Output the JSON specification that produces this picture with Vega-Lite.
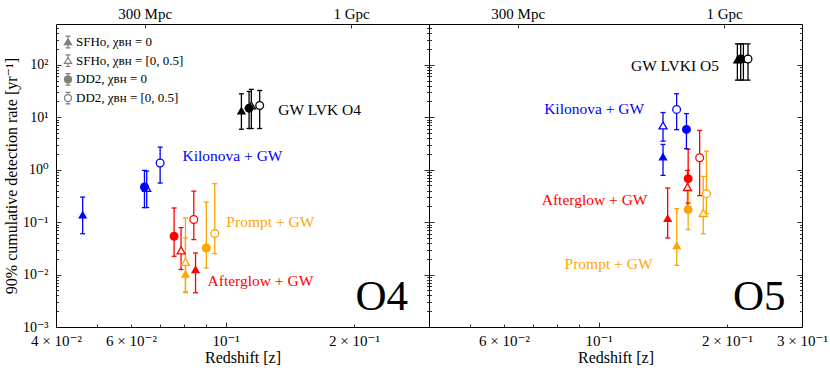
{
  "$schema": "https://vega.github.io/schema/vega-lite/v6.json",
  "background": "white",
  "padding": {"left": 2, "top": 5, "right": 0, "bottom": 0},
  "spacing": 0,
  "bounds": "flush",
  "config": {
    "font": "'Liberation Serif', 'Times New Roman', 'DejaVu Serif', serif",
    "view": {"stroke": "#000000", "strokeWidth": 1},
    "axis": {"grid": false, "domain": false, "labelFont": "'Liberation Serif', 'Times New Roman', 'DejaVu Serif', serif", "titleFont": "'Liberation Serif', 'Times New Roman', 'DejaVu Serif', serif", "labelColor": "#000000", "titleColor": "#000000", "tickColor": "#000000", "tickWidth": 0.8, "labelFontSize": 15, "titleFontSize": 16, "titleFontWeight": "normal", "labelFlush": false, "labelOverlap": false},
    "legend": {"labelFont": "'Liberation Serif', 'Times New Roman', 'DejaVu Serif', serif"},
    "text": {"font": "'Liberation Serif', 'Times New Roman', 'DejaVu Serif', serif"}
  },
  "datasets": {
    "empty": [],
    "pts": [
      {"panel": "O4", "group": "GW", "model": "SFHo0", "z": 0.1089, "r": 13.5, "lo": 5.9, "hi": 28},
      {"panel": "O4", "group": "GW", "model": "DD20", "z": 0.1135, "r": 14.9, "lo": 6.1, "hi": 31},
      {"panel": "O4", "group": "GW", "model": "SFHo05", "z": 0.1149, "r": 16.8, "lo": 6.1, "hi": 34},
      {"panel": "O4", "group": "GW", "model": "DD205", "z": 0.1202, "r": 16.8, "lo": 6.1, "hi": 32.4},
      {"panel": "O4", "group": "Kilonova", "model": "SFHo0", "z": 0.0462, "r": 0.139, "lo": 0.06, "hi": 0.3},
      {"panel": "O4", "group": "Kilonova", "model": "DD20", "z": 0.0645, "r": 0.467, "lo": 0.189, "hi": 0.97},
      {"panel": "O4", "group": "Kilonova", "model": "SFHo05", "z": 0.0653, "r": 0.45, "lo": 0.19, "hi": 0.94},
      {"panel": "O4", "group": "Kilonova", "model": "DD205", "z": 0.0702, "r": 1.34, "lo": 0.556, "hi": 2.69},
      {"panel": "O4", "group": "Afterglow", "model": "DD20", "z": 0.0757, "r": 0.0537, "lo": 0.0223, "hi": 0.186},
      {"panel": "O4", "group": "Afterglow", "model": "SFHo05", "z": 0.0786, "r": 0.029, "lo": 0.0125, "hi": 0.0785},
      {"panel": "O4", "group": "Afterglow", "model": "SFHo0", "z": 0.085, "r": 0.0126, "lo": 0.0045, "hi": 0.0258},
      {"panel": "O4", "group": "Afterglow", "model": "DD205", "z": 0.0842, "r": 0.112, "lo": 0.0464, "hi": 0.39},
      {"panel": "O4", "group": "Prompt", "model": "SFHo05", "z": 0.0805, "r": 0.0174, "lo": 0.0047, "hi": 0.12},
      {"panel": "O4", "group": "Prompt", "model": "SFHo0", "z": 0.0805, "r": 0.0104, "lo": 0.0045, "hi": 0.05},
      {"panel": "O4", "group": "Prompt", "model": "DD20", "z": 0.0901, "r": 0.0321, "lo": 0.0134, "hi": 0.241},
      {"panel": "O4", "group": "Prompt", "model": "DD205", "z": 0.0943, "r": 0.0604, "lo": 0.0251, "hi": 0.541},
      {"panel": "O5", "group": "GW", "model": "SFHo0", "z": 0.2116, "r": 126, "lo": 51, "hi": 251},
      {"panel": "O5", "group": "GW", "model": "DD20", "z": 0.2154, "r": 129, "lo": 51, "hi": 251},
      {"panel": "O5", "group": "GW", "model": "SFHo05", "z": 0.2186, "r": 129, "lo": 51, "hi": 251},
      {"panel": "O5", "group": "GW", "model": "DD205", "z": 0.2241, "r": 129, "lo": 51, "hi": 251},
      {"panel": "O5", "group": "Kilonova", "model": "SFHo05", "z": 0.1416, "r": 6.98, "lo": 3.5, "hi": 12.3},
      {"panel": "O5", "group": "Kilonova", "model": "SFHo0", "z": 0.1416, "r": 1.79, "lo": 0.78, "hi": 3.03},
      {"panel": "O5", "group": "Kilonova", "model": "DD205", "z": 0.1524, "r": 14.1, "lo": 5.8, "hi": 28},
      {"panel": "O5", "group": "Kilonova", "model": "DD20", "z": 0.1607, "r": 5.86, "lo": 2.51, "hi": 11.7},
      {"panel": "O5", "group": "Afterglow", "model": "SFHo0", "z": 0.1452, "r": 0.12, "lo": 0.0498, "hi": 0.447},
      {"panel": "O5", "group": "Afterglow", "model": "SFHo05", "z": 0.1616, "r": 0.467, "lo": 0.19, "hi": 0.97},
      {"panel": "O5", "group": "Afterglow", "model": "DD20", "z": 0.1622, "r": 0.674, "lo": 0.231, "hi": 2.44},
      {"panel": "O5", "group": "Afterglow", "model": "DD205", "z": 0.1726, "r": 1.69, "lo": 0.32, "hi": 5.6},
      {"panel": "O5", "group": "Prompt", "model": "SFHo0", "z": 0.1525, "r": 0.0361, "lo": 0.015, "hi": 0.181},
      {"panel": "O5", "group": "Prompt", "model": "DD20", "z": 0.1622, "r": 0.173, "lo": 0.072, "hi": 0.6},
      {"panel": "O5", "group": "Prompt", "model": "SFHo05", "z": 0.176, "r": 0.149, "lo": 0.06, "hi": 0.745},
      {"panel": "O5", "group": "Prompt", "model": "DD205", "z": 0.179, "r": 0.349, "lo": 0.145, "hi": 2.26}
    ],
    "notes": [
      {"panel": "O4", "group": "GW", "text": "GW LVK O4", "z": 0.1329, "r": 13.5},
      {"panel": "O4", "group": "Kilonova", "text": "Kilonova + GW", "z": 0.0792, "r": 1.79},
      {"panel": "O4", "group": "Prompt", "text": "Prompt + GW", "z": 0.1004, "r": 0.099},
      {"panel": "O4", "group": "Afterglow", "text": "Afterglow + GW", "z": 0.0907, "r": 0.00745},
      {"panel": "O5", "group": "GW", "text": "GW LVKI O5", "z": 0.1915, "r": 94},
      {"panel": "O5", "group": "Kilonova", "text": "Kilonova + GW", "z": 0.1279, "r": 14.1},
      {"panel": "O5", "group": "Afterglow", "text": "Afterglow + GW", "z": 0.1302, "r": 0.268},
      {"panel": "O5", "group": "Prompt", "text": "Prompt + GW", "z": 0.1338, "r": 0.0157}
    ],
    "runs": [
      {"panel": "O4", "text": "O4", "z": 0.268, "r": 0.00209},
      {"panel": "O5", "text": "O5", "z": 0.2746, "r": 0.00209}
    ]
  },
  "hconcat": [
    {
      "width": 373,
      "height": 303,
      "resolve": {"axis": {"x": "independent", "y": "independent"}},
      "layer": [
        {
          "data": {"name": "empty"},
          "mark": {"type": "point", "opacity": 0},
          "encoding": {
            "x": {"field": "z", "type": "quantitative", "scale": {"type": "log", "domain": [0.04, 0.3], "nice": false}, "axis": {"orient": "bottom", "values": [0.04, 0.06, 0.1, 0.2], "ticks": false, "labelPadding": 6, "labelExpr": "datum.value < 0.05 ? '4 × 10⁻²' : datum.value < 0.07 ? '6 × 10⁻²' : datum.value < 0.15 ? '10⁻¹' : datum.value < 0.25 ? '2 × 10⁻¹' : '3 × 10⁻¹'", "title": "Redshift [z]", "titlePadding": 1}},
            "y": {"field": "r", "type": "quantitative", "scale": {"type": "log", "domain": [0.001, 600], "nice": false}, "axis": {"orient": "left", "values": [0.001, 0.01, 0.1, 1, 10, 100], "ticks": false, "labelPadding": 8, "labelFontSize": 14, "labelExpr": "datum.value < 0.005 ? '10⁻³' : datum.value < 0.05 ? '10⁻²' : datum.value < 0.5 ? '10⁻¹' : datum.value < 5 ? '10⁰' : datum.value < 50 ? '10¹' : '10²'", "title": "90% cumulative detection rate [yr⁻¹]", "titlePadding": 3}}
          }
        },
        {
          "data": {"name": "empty"},
          "mark": {"type": "point", "opacity": 0},
          "encoding": {
            "x": {"field": "z", "type": "quantitative", "scale": {"type": "log", "domain": [0.04, 0.3], "nice": false}, "axis": {"orient": "bottom", "values": [0.1], "offset": -5, "tickSize": 5, "labels": false, "title": null}},
            "y": {"field": "r", "type": "quantitative", "scale": {"type": "log", "domain": [0.001, 600], "nice": false}, "axis": {"orient": "left", "values": [0.001, 0.01, 0.1, 1, 10, 100], "offset": -5, "tickSize": 5, "labels": false, "title": null}}
          }
        },
        {
          "data": {"name": "empty"},
          "mark": {"type": "point", "opacity": 0},
          "encoding": {
            "x": {"field": "z", "type": "quantitative", "scale": {"type": "log", "domain": [0.04, 0.3], "nice": false}, "axis": {"orient": "bottom", "values": [0.05, 0.06, 0.07, 0.08, 0.09, 0.2], "offset": -3, "tickSize": 3, "labels": false, "title": null}},
            "y": {"field": "r", "type": "quantitative", "scale": {"type": "log", "domain": [0.001, 600], "nice": false}, "axis": {"orient": "left", "values": [0.002,0.003,0.004,0.005,0.006,0.007,0.008,0.009,0.02,0.03,0.04,0.05,0.06,0.07,0.08,0.09,0.2,0.3,0.4,0.5,0.6,0.7,0.8,0.9,2,3,4,5,6,7,8,9,20,30,40,50,60,70,80,90,200,300,400,500], "offset": -2.5, "tickSize": 2.5, "labels": false, "title": null}}
          }
        },
        {
          "data": {"name": "empty"},
          "mark": {"type": "point", "opacity": 0},
          "encoding": {
            "x": {"field": "z", "type": "quantitative", "scale": {"type": "log", "domain": [0.04, 0.3], "nice": false}, "axis": {"orient": "top", "values": [0.0646, 0.197], "ticks": false, "labelPadding": 3, "labelExpr": "datum.value < 0.1 ? '300 Mpc' : '1 Gpc'", "title": null}},
            "y": {"field": "r", "type": "quantitative", "scale": {"type": "log", "domain": [0.001, 600], "nice": false}, "axis": {"orient": "right", "values": [0.001, 0.01, 0.1, 1, 10, 100], "offset": -5, "tickSize": 5, "labels": false, "title": null}}
          }
        },
        {
          "data": {"name": "empty"},
          "mark": {"type": "point", "opacity": 0},
          "encoding": {
            "x": {"field": "z", "type": "quantitative", "scale": {"type": "log", "domain": [0.04, 0.3], "nice": false}, "axis": {"orient": "top", "values": [0.0646, 0.197], "offset": -4, "tickSize": 4, "labels": false, "title": null}},
            "y": {"field": "r", "type": "quantitative", "scale": {"type": "log", "domain": [0.001, 600], "nice": false}, "axis": {"orient": "right", "values": [0.002,0.003,0.004,0.005,0.006,0.007,0.008,0.009,0.02,0.03,0.04,0.05,0.06,0.07,0.08,0.09,0.2,0.3,0.4,0.5,0.6,0.7,0.8,0.9,2,3,4,5,6,7,8,9,20,30,40,50,60,70,80,90,200,300,400,500], "offset": -2.5, "tickSize": 2.5, "labels": false, "title": null}}
          }
        },
        {
          "data": {"name": "pts"},
          "transform": [{"filter": "datum.panel == 'O4'"}],
          "mark": {"type": "rule", "strokeWidth": 1.3, "opacity": 1},
          "encoding": {
            "x": {"field": "z", "type": "quantitative", "scale": {"type": "log", "domain": [0.04, 0.3], "nice": false}, "axis": null},
            "y": {"field": "lo", "type": "quantitative", "scale": {"type": "log", "domain": [0.001, 600], "nice": false}, "axis": null},
            "y2": {"field": "hi"},
            "color": {"field": "group", "type": "nominal", "scale": {"domain": ["GW", "Kilonova", "Afterglow", "Prompt"], "range": ["#000000", "#0000ff", "#ff0000", "#ffa500"]}, "legend": null}
          }
        },
        {
          "data": {"name": "pts"},
          "transform": [{"filter": "datum.panel == 'O4'"}],
          "mark": {"type": "tick", "orient": "horizontal", "size": 5, "thickness": 1.3, "opacity": 1},
          "encoding": {
            "x": {"field": "z", "type": "quantitative", "scale": {"type": "log", "domain": [0.04, 0.3], "nice": false}, "axis": null},
            "y": {"field": "lo", "type": "quantitative", "scale": {"type": "log", "domain": [0.001, 600], "nice": false}, "axis": null},
            "color": {"field": "group", "type": "nominal", "scale": {"domain": ["GW", "Kilonova", "Afterglow", "Prompt"], "range": ["#000000", "#0000ff", "#ff0000", "#ffa500"]}, "legend": null}
          }
        },
        {
          "data": {"name": "pts"},
          "transform": [{"filter": "datum.panel == 'O4'"}],
          "mark": {"type": "tick", "orient": "horizontal", "size": 5, "thickness": 1.3, "opacity": 1},
          "encoding": {
            "x": {"field": "z", "type": "quantitative", "scale": {"type": "log", "domain": [0.04, 0.3], "nice": false}, "axis": null},
            "y": {"field": "hi", "type": "quantitative", "scale": {"type": "log", "domain": [0.001, 600], "nice": false}, "axis": null},
            "color": {"field": "group", "type": "nominal", "scale": {"domain": ["GW", "Kilonova", "Afterglow", "Prompt"], "range": ["#000000", "#0000ff", "#ff0000", "#ffa500"]}, "legend": null}
          }
        },
        {
          "data": {"name": "pts"},
          "transform": [{"filter": "datum.panel == 'O4' && datum.model == 'SFHo0'"}],
          "mark": {"type": "point", "shape": "triangle-up", "filled": true, "size": 85, "opacity": 1},
          "encoding": {
            "x": {"field": "z", "type": "quantitative", "scale": {"type": "log", "domain": [0.04, 0.3], "nice": false}, "axis": null},
            "y": {"field": "r", "type": "quantitative", "scale": {"type": "log", "domain": [0.001, 600], "nice": false}, "axis": null},
            "color": {"field": "group", "type": "nominal", "scale": {"domain": ["GW", "Kilonova", "Afterglow", "Prompt"], "range": ["#000000", "#0000ff", "#ff0000", "#ffa500"]}, "legend": null}
          }
        },
        {
          "data": {"name": "pts"},
          "transform": [{"filter": "datum.panel == 'O4' && datum.model == 'SFHo05'"}],
          "mark": {"type": "point", "shape": "triangle-up", "filled": false, "fill": "#ffffff", "size": 64, "strokeWidth": 1.3, "opacity": 1},
          "encoding": {
            "x": {"field": "z", "type": "quantitative", "scale": {"type": "log", "domain": [0.04, 0.3], "nice": false}, "axis": null},
            "y": {"field": "r", "type": "quantitative", "scale": {"type": "log", "domain": [0.001, 600], "nice": false}, "axis": null},
            "color": {"field": "group", "type": "nominal", "scale": {"domain": ["GW", "Kilonova", "Afterglow", "Prompt"], "range": ["#000000", "#0000ff", "#ff0000", "#ffa500"]}, "legend": null}
          }
        },
        {
          "data": {"name": "pts"},
          "transform": [{"filter": "datum.panel == 'O4' && datum.model == 'DD20'"}],
          "mark": {"type": "point", "shape": "circle", "filled": true, "size": 80, "opacity": 1},
          "encoding": {
            "x": {"field": "z", "type": "quantitative", "scale": {"type": "log", "domain": [0.04, 0.3], "nice": false}, "axis": null},
            "y": {"field": "r", "type": "quantitative", "scale": {"type": "log", "domain": [0.001, 600], "nice": false}, "axis": null},
            "color": {"field": "group", "type": "nominal", "scale": {"domain": ["GW", "Kilonova", "Afterglow", "Prompt"], "range": ["#000000", "#0000ff", "#ff0000", "#ffa500"]}, "legend": null}
          }
        },
        {
          "data": {"name": "pts"},
          "transform": [{"filter": "datum.panel == 'O4' && datum.model == 'DD205'"}],
          "mark": {"type": "point", "shape": "circle", "filled": false, "fill": "#ffffff", "size": 60, "strokeWidth": 1.3, "opacity": 1},
          "encoding": {
            "x": {"field": "z", "type": "quantitative", "scale": {"type": "log", "domain": [0.04, 0.3], "nice": false}, "axis": null},
            "y": {"field": "r", "type": "quantitative", "scale": {"type": "log", "domain": [0.001, 600], "nice": false}, "axis": null},
            "color": {"field": "group", "type": "nominal", "scale": {"domain": ["GW", "Kilonova", "Afterglow", "Prompt"], "range": ["#000000", "#0000ff", "#ff0000", "#ffa500"]}, "legend": null}
          }
        },
        {
          "data": {"name": "notes"},
          "transform": [{"filter": "datum.panel == 'O4'"}],
          "mark": {"type": "text", "align": "left", "baseline": "middle", "fontSize": 15.5},
          "encoding": {
            "x": {"field": "z", "type": "quantitative", "scale": {"type": "log", "domain": [0.04, 0.3], "nice": false}, "axis": null},
            "y": {"field": "r", "type": "quantitative", "scale": {"type": "log", "domain": [0.001, 600], "nice": false}, "axis": null},
            "text": {"field": "text"},
            "color": {"field": "group", "type": "nominal", "scale": {"domain": ["GW", "Kilonova", "Afterglow", "Prompt"], "range": ["#000000", "#0000ff", "#ff0000", "#ffa500"]}, "legend": null}
          }
        },
        {
          "data": {"name": "runs"},
          "transform": [{"filter": "datum.panel == 'O4'"}],
          "mark": {"type": "text", "align": "right", "baseline": "alphabetic", "fontSize": 43, "color": "#000000"},
          "encoding": {
            "x": {"field": "z", "type": "quantitative", "scale": {"type": "log", "domain": [0.04, 0.3], "nice": false}, "axis": null},
            "y": {"field": "r", "type": "quantitative", "scale": {"type": "log", "domain": [0.001, 600], "nice": false}, "axis": null},
            "text": {"field": "text"}
          }
        },
        {
          "data": {"name": "empty"},
          "mark": {"type": "point", "filled": false, "strokeWidth": 1.2, "opacity": 1},
          "encoding": {
            "shape": {"field": "model", "type": "nominal", "scale": {"domain": ["SFHo0", "SFHo05", "DD20", "DD205"], "range": [
              "M0,-0.97L0,-0.55M-0.42,-0.97L0.42,-0.97M0,0.45L0,0.97M-0.42,0.97L0.42,0.97M0,-0.55L0.6,0.45L-0.6,0.45Z",
              "M0,-0.97L0,-0.55M-0.42,-0.97L0.42,-0.97M0,0.45L0,0.97M-0.42,0.97L0.42,0.97M0,-0.55L0.6,0.45L-0.6,0.45Z",
              "M0,-0.97L0,-0.58M-0.42,-0.97L0.42,-0.97M0,0.58L0,0.97M-0.42,0.97L0.42,0.97M0.58,0A0.58,0.58,0,1,1,-0.58,0A0.58,0.58,0,1,1,0.58,0Z",
              "M0,-0.97L0,-0.58M-0.42,-0.97L0.42,-0.97M0,0.58L0,0.97M-0.42,0.97L0.42,0.97M0.58,0A0.58,0.58,0,1,1,-0.58,0A0.58,0.58,0,1,1,0.58,0Z"
            ]}, "legend": {"title": null, "orient": "none", "legendX": 5, "legendY": 11, "padding": 0, "symbolSize": 144, "symbolStrokeWidth": 1.2, "labelFontSize": 13, "labelColor": "#000000", "labelOffset": 1, "rowPadding": 0.7, "labelExpr": "datum.value == 'SFHo0' ? 'SFHo, χʙʜ = 0' : datum.value == 'SFHo05' ? 'SFHo, χʙʜ = [0, 0.5]' : datum.value == 'DD20' ? 'DD2, χʙʜ = 0' : 'DD2, χʙʜ = [0, 0.5]'"}},
            "fill": {"field": "model", "type": "nominal", "scale": {"domain": ["SFHo0", "SFHo05", "DD20", "DD205"], "range": ["#808080", "#ffffff", "#808080", "#ffffff"]}, "legend": {"title": null, "orient": "none", "legendX": 5, "legendY": 11, "padding": 0, "symbolSize": 144, "symbolStrokeWidth": 1.2, "labelFontSize": 13, "labelColor": "#000000", "labelOffset": 1, "rowPadding": 0.7, "labelExpr": "datum.value == 'SFHo0' ? 'SFHo, χʙʜ = 0' : datum.value == 'SFHo05' ? 'SFHo, χʙʜ = [0, 0.5]' : datum.value == 'DD20' ? 'DD2, χʙʜ = 0' : 'DD2, χʙʜ = [0, 0.5]'"}},
            "stroke": {"field": "model", "type": "nominal", "scale": {"domain": ["SFHo0", "SFHo05", "DD20", "DD205"], "range": ["#808080", "#808080", "#808080", "#808080"]}, "legend": {"title": null, "orient": "none", "legendX": 5, "legendY": 11, "padding": 0, "symbolSize": 144, "symbolStrokeWidth": 1.2, "labelFontSize": 13, "labelColor": "#000000", "labelOffset": 1, "rowPadding": 0.7, "labelExpr": "datum.value == 'SFHo0' ? 'SFHo, χʙʜ = 0' : datum.value == 'SFHo05' ? 'SFHo, χʙʜ = [0, 0.5]' : datum.value == 'DD20' ? 'DD2, χʙʜ = 0' : 'DD2, χʙʜ = [0, 0.5]'"}}
          }
        }
      ]
    },
    {
      "width": 373,
      "height": 303,
      "resolve": {"axis": {"x": "independent", "y": "independent"}},
      "layer": [
        {
          "data": {"name": "empty"},
          "mark": {"type": "point", "opacity": 0},
          "encoding": {
            "x": {"field": "z", "type": "quantitative", "scale": {"type": "log", "domain": [0.04, 0.3], "nice": false}, "axis": {"orient": "bottom", "values": [0.06, 0.1, 0.2, 0.3], "ticks": false, "labelPadding": 6, "labelExpr": "datum.value < 0.05 ? '4 × 10⁻²' : datum.value < 0.07 ? '6 × 10⁻²' : datum.value < 0.15 ? '10⁻¹' : datum.value < 0.25 ? '2 × 10⁻¹' : '3 × 10⁻¹'", "title": "Redshift [z]", "titlePadding": 1}},
            "y": {"field": "r", "type": "quantitative", "scale": {"type": "log", "domain": [0.001, 600], "nice": false}, "axis": null}
          }
        },
        {
          "data": {"name": "empty"},
          "mark": {"type": "point", "opacity": 0},
          "encoding": {
            "x": {"field": "z", "type": "quantitative", "scale": {"type": "log", "domain": [0.04, 0.3], "nice": false}, "axis": {"orient": "bottom", "values": [0.1], "offset": -5, "tickSize": 5, "labels": false, "title": null}},
            "y": {"field": "r", "type": "quantitative", "scale": {"type": "log", "domain": [0.001, 600], "nice": false}, "axis": {"orient": "left", "values": [0.001, 0.01, 0.1, 1, 10, 100], "offset": -5, "tickSize": 5, "labels": false, "title": null}}
          }
        },
        {
          "data": {"name": "empty"},
          "mark": {"type": "point", "opacity": 0},
          "encoding": {
            "x": {"field": "z", "type": "quantitative", "scale": {"type": "log", "domain": [0.04, 0.3], "nice": false}, "axis": {"orient": "bottom", "values": [0.05, 0.06, 0.07, 0.08, 0.09, 0.2], "offset": -3, "tickSize": 3, "labels": false, "title": null}},
            "y": {"field": "r", "type": "quantitative", "scale": {"type": "log", "domain": [0.001, 600], "nice": false}, "axis": {"orient": "left", "values": [0.002,0.003,0.004,0.005,0.006,0.007,0.008,0.009,0.02,0.03,0.04,0.05,0.06,0.07,0.08,0.09,0.2,0.3,0.4,0.5,0.6,0.7,0.8,0.9,2,3,4,5,6,7,8,9,20,30,40,50,60,70,80,90,200,300,400,500], "offset": -2.5, "tickSize": 2.5, "labels": false, "title": null}}
          }
        },
        {
          "data": {"name": "empty"},
          "mark": {"type": "point", "opacity": 0},
          "encoding": {
            "x": {"field": "z", "type": "quantitative", "scale": {"type": "log", "domain": [0.04, 0.3], "nice": false}, "axis": {"orient": "top", "values": [0.0646, 0.197], "ticks": false, "labelPadding": 3, "labelExpr": "datum.value < 0.1 ? '300 Mpc' : '1 Gpc'", "title": null}},
            "y": {"field": "r", "type": "quantitative", "scale": {"type": "log", "domain": [0.001, 600], "nice": false}, "axis": {"orient": "right", "values": [0.001, 0.01, 0.1, 1, 10, 100], "offset": -5, "tickSize": 5, "labels": false, "title": null}}
          }
        },
        {
          "data": {"name": "empty"},
          "mark": {"type": "point", "opacity": 0},
          "encoding": {
            "x": {"field": "z", "type": "quantitative", "scale": {"type": "log", "domain": [0.04, 0.3], "nice": false}, "axis": {"orient": "top", "values": [0.0646, 0.197], "offset": -4, "tickSize": 4, "labels": false, "title": null}},
            "y": {"field": "r", "type": "quantitative", "scale": {"type": "log", "domain": [0.001, 600], "nice": false}, "axis": {"orient": "right", "values": [0.002,0.003,0.004,0.005,0.006,0.007,0.008,0.009,0.02,0.03,0.04,0.05,0.06,0.07,0.08,0.09,0.2,0.3,0.4,0.5,0.6,0.7,0.8,0.9,2,3,4,5,6,7,8,9,20,30,40,50,60,70,80,90,200,300,400,500], "offset": -2.5, "tickSize": 2.5, "labels": false, "title": null}}
          }
        },
        {
          "data": {"name": "pts"},
          "transform": [{"filter": "datum.panel == 'O5'"}],
          "mark": {"type": "rule", "strokeWidth": 1.3, "opacity": 1},
          "encoding": {
            "x": {"field": "z", "type": "quantitative", "scale": {"type": "log", "domain": [0.04, 0.3], "nice": false}, "axis": null},
            "y": {"field": "lo", "type": "quantitative", "scale": {"type": "log", "domain": [0.001, 600], "nice": false}, "axis": null},
            "y2": {"field": "hi"},
            "color": {"field": "group", "type": "nominal", "scale": {"domain": ["GW", "Kilonova", "Afterglow", "Prompt"], "range": ["#000000", "#0000ff", "#ff0000", "#ffa500"]}, "legend": null}
          }
        },
        {
          "data": {"name": "pts"},
          "transform": [{"filter": "datum.panel == 'O5'"}],
          "mark": {"type": "tick", "orient": "horizontal", "size": 5, "thickness": 1.3, "opacity": 1},
          "encoding": {
            "x": {"field": "z", "type": "quantitative", "scale": {"type": "log", "domain": [0.04, 0.3], "nice": false}, "axis": null},
            "y": {"field": "lo", "type": "quantitative", "scale": {"type": "log", "domain": [0.001, 600], "nice": false}, "axis": null},
            "color": {"field": "group", "type": "nominal", "scale": {"domain": ["GW", "Kilonova", "Afterglow", "Prompt"], "range": ["#000000", "#0000ff", "#ff0000", "#ffa500"]}, "legend": null}
          }
        },
        {
          "data": {"name": "pts"},
          "transform": [{"filter": "datum.panel == 'O5'"}],
          "mark": {"type": "tick", "orient": "horizontal", "size": 5, "thickness": 1.3, "opacity": 1},
          "encoding": {
            "x": {"field": "z", "type": "quantitative", "scale": {"type": "log", "domain": [0.04, 0.3], "nice": false}, "axis": null},
            "y": {"field": "hi", "type": "quantitative", "scale": {"type": "log", "domain": [0.001, 600], "nice": false}, "axis": null},
            "color": {"field": "group", "type": "nominal", "scale": {"domain": ["GW", "Kilonova", "Afterglow", "Prompt"], "range": ["#000000", "#0000ff", "#ff0000", "#ffa500"]}, "legend": null}
          }
        },
        {
          "data": {"name": "pts"},
          "transform": [{"filter": "datum.panel == 'O5' && datum.model == 'SFHo0'"}],
          "mark": {"type": "point", "shape": "triangle-up", "filled": true, "size": 85, "opacity": 1},
          "encoding": {
            "x": {"field": "z", "type": "quantitative", "scale": {"type": "log", "domain": [0.04, 0.3], "nice": false}, "axis": null},
            "y": {"field": "r", "type": "quantitative", "scale": {"type": "log", "domain": [0.001, 600], "nice": false}, "axis": null},
            "color": {"field": "group", "type": "nominal", "scale": {"domain": ["GW", "Kilonova", "Afterglow", "Prompt"], "range": ["#000000", "#0000ff", "#ff0000", "#ffa500"]}, "legend": null}
          }
        },
        {
          "data": {"name": "pts"},
          "transform": [{"filter": "datum.panel == 'O5' && datum.model == 'SFHo05'"}],
          "mark": {"type": "point", "shape": "triangle-up", "filled": false, "fill": "#ffffff", "size": 64, "strokeWidth": 1.3, "opacity": 1},
          "encoding": {
            "x": {"field": "z", "type": "quantitative", "scale": {"type": "log", "domain": [0.04, 0.3], "nice": false}, "axis": null},
            "y": {"field": "r", "type": "quantitative", "scale": {"type": "log", "domain": [0.001, 600], "nice": false}, "axis": null},
            "color": {"field": "group", "type": "nominal", "scale": {"domain": ["GW", "Kilonova", "Afterglow", "Prompt"], "range": ["#000000", "#0000ff", "#ff0000", "#ffa500"]}, "legend": null}
          }
        },
        {
          "data": {"name": "pts"},
          "transform": [{"filter": "datum.panel == 'O5' && datum.model == 'DD20'"}],
          "mark": {"type": "point", "shape": "circle", "filled": true, "size": 80, "opacity": 1},
          "encoding": {
            "x": {"field": "z", "type": "quantitative", "scale": {"type": "log", "domain": [0.04, 0.3], "nice": false}, "axis": null},
            "y": {"field": "r", "type": "quantitative", "scale": {"type": "log", "domain": [0.001, 600], "nice": false}, "axis": null},
            "color": {"field": "group", "type": "nominal", "scale": {"domain": ["GW", "Kilonova", "Afterglow", "Prompt"], "range": ["#000000", "#0000ff", "#ff0000", "#ffa500"]}, "legend": null}
          }
        },
        {
          "data": {"name": "pts"},
          "transform": [{"filter": "datum.panel == 'O5' && datum.model == 'DD205'"}],
          "mark": {"type": "point", "shape": "circle", "filled": false, "fill": "#ffffff", "size": 60, "strokeWidth": 1.3, "opacity": 1},
          "encoding": {
            "x": {"field": "z", "type": "quantitative", "scale": {"type": "log", "domain": [0.04, 0.3], "nice": false}, "axis": null},
            "y": {"field": "r", "type": "quantitative", "scale": {"type": "log", "domain": [0.001, 600], "nice": false}, "axis": null},
            "color": {"field": "group", "type": "nominal", "scale": {"domain": ["GW", "Kilonova", "Afterglow", "Prompt"], "range": ["#000000", "#0000ff", "#ff0000", "#ffa500"]}, "legend": null}
          }
        },
        {
          "data": {"name": "notes"},
          "transform": [{"filter": "datum.panel == 'O5'"}],
          "mark": {"type": "text", "align": "right", "baseline": "middle", "fontSize": 15.5},
          "encoding": {
            "x": {"field": "z", "type": "quantitative", "scale": {"type": "log", "domain": [0.04, 0.3], "nice": false}, "axis": null},
            "y": {"field": "r", "type": "quantitative", "scale": {"type": "log", "domain": [0.001, 600], "nice": false}, "axis": null},
            "text": {"field": "text"},
            "color": {"field": "group", "type": "nominal", "scale": {"domain": ["GW", "Kilonova", "Afterglow", "Prompt"], "range": ["#000000", "#0000ff", "#ff0000", "#ffa500"]}, "legend": null}
          }
        },
        {
          "data": {"name": "runs"},
          "transform": [{"filter": "datum.panel == 'O5'"}],
          "mark": {"type": "text", "align": "right", "baseline": "alphabetic", "fontSize": 43, "color": "#000000"},
          "encoding": {
            "x": {"field": "z", "type": "quantitative", "scale": {"type": "log", "domain": [0.04, 0.3], "nice": false}, "axis": null},
            "y": {"field": "r", "type": "quantitative", "scale": {"type": "log", "domain": [0.001, 600], "nice": false}, "axis": null},
            "text": {"field": "text"}
          }
        }
      ]
    }
  ]
}
